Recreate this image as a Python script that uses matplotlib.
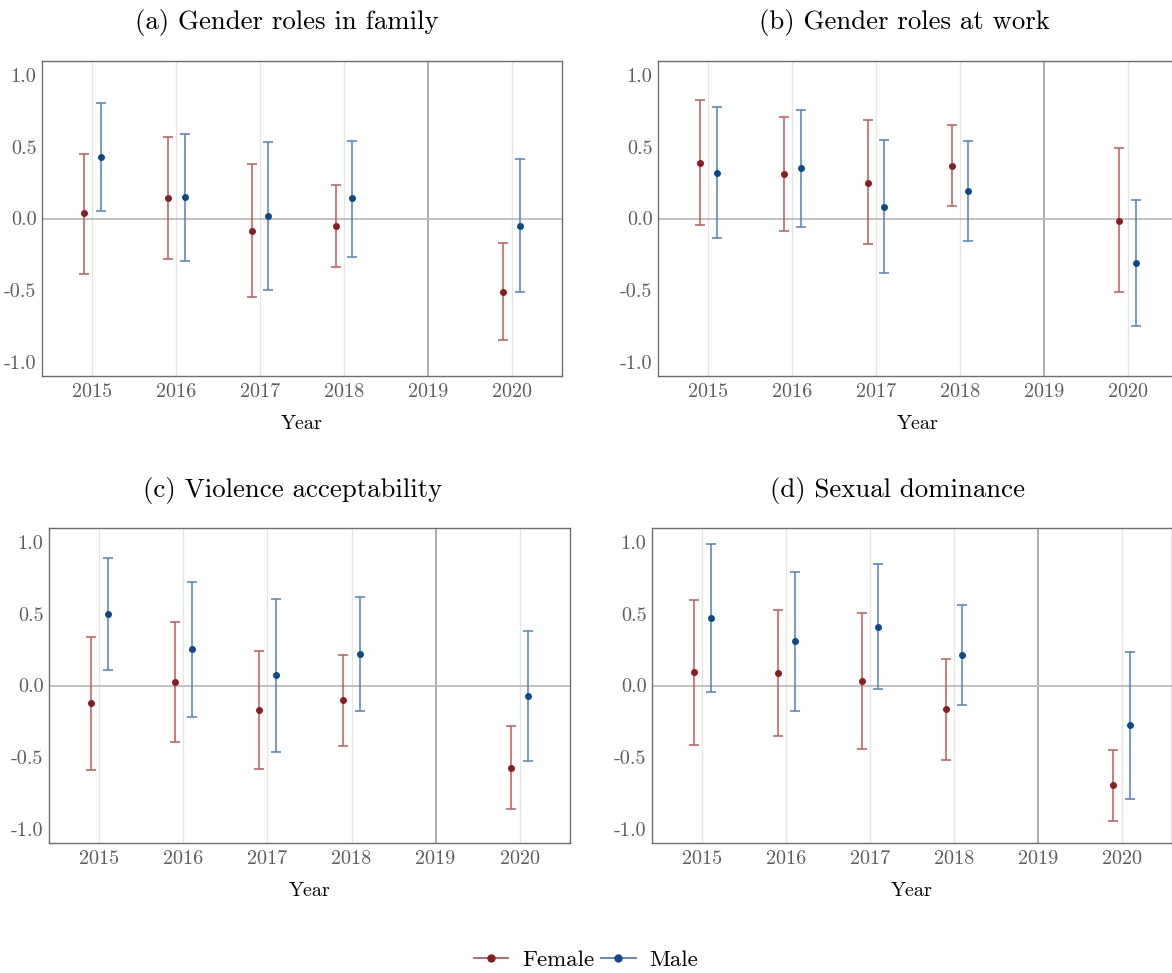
import numpy as np
import matplotlib
matplotlib.use("Agg")
import matplotlib.pyplot as plt
from matplotlib.lines import Line2D

plt.rcParams['font.family'] = ['cmr10', 'DejaVu Serif']
plt.rcParams['axes.unicode_minus'] = False

years = [2015, 2016, 2017, 2018, 2020]
titles = ['(a) Gender roles in family', '(b) Gender roles at work',
          '(c) Violence acceptability', '(d) Sexual dominance']

# point estimate, lower, upper for each panel
fem_est = [[0.035, 0.145, -0.086, -0.05, -0.51],
           [0.39, 0.31, 0.25, 0.37, -0.014],
           [-0.123, 0.023, -0.17, -0.102, -0.576],
           [0.093, 0.086, 0.03, -0.167, -0.697]]
fem_lo = [[-0.39, -0.28, -0.55, -0.34, -0.85],
          [-0.047, -0.086, -0.18, 0.085, -0.51],
          [-0.592, -0.395, -0.583, -0.423, -0.866],
          [-0.416, -0.353, -0.444, -0.518, -0.943]]
fem_hi = [[0.45, 0.57, 0.38, 0.235, -0.17],
          [0.83, 0.71, 0.69, 0.65, 0.49],
          [0.341, 0.441, 0.244, 0.214, -0.286],
          [0.599, 0.525, 0.504, 0.188, -0.451]]
male_est = [[0.43, 0.15, 0.016, 0.14, -0.049],
            [0.32, 0.35, 0.08, 0.19, -0.31],
            [0.502, 0.253, 0.07, 0.218, -0.074],
            [0.472, 0.309, 0.411, 0.211, -0.279]]
male_lo = [[0.05, -0.295, -0.50, -0.27, -0.515],
           [-0.135, -0.06, -0.38, -0.16, -0.75],
           [0.107, -0.221, -0.467, -0.179, -0.527],
           [-0.044, -0.177, -0.021, -0.139, -0.79]]
male_hi = [[0.81, 0.59, 0.535, 0.54, 0.415],
           [0.78, 0.755, 0.545, 0.54, 0.13],
           [0.892, 0.725, 0.604, 0.616, 0.381],
           [0.985, 0.794, 0.846, 0.562, 0.232]]

fem_dot, fem_line = '#8b1c1f', '#c0585a'
male_dot, male_line = '#0d4a8c', '#4f82bd'

W, H = 1172, 973
fig = plt.figure(figsize=(W / 100, H / 100), dpi=100)

# axes boxes in pixels: left, top, right, bottom
boxes = [(42, 61, 562, 376), (658, 61, 1178, 376),
         (49, 528, 570, 843), (652, 528, 1172, 843)]
title_pos = [(287, 22), (904, 22), (293, 490), (897, 490)]

for i, (l, t, r, b) in enumerate(boxes):
    ax = fig.add_axes([l / W, 1 - b / H, (r - l) / W, (b - t) / H])
    x = np.array(years, dtype=float)
    ax.axvline(2019, color='#a0a0a0', lw=1.2, zorder=1)
    ax.axhline(0, color='#bdbdbd', lw=1.3, zorder=1)
    for yr in [2015, 2016, 2017, 2018, 2020]:
        ax.axvline(yr, color='#e6e6e6', lw=1.0, zorder=0)

    fe = np.array(fem_est[i])
    me = np.array(male_est[i])
    ax.errorbar(x - 0.1, fe, yerr=[fe - np.array(fem_lo[i]), np.array(fem_hi[i]) - fe],
                fmt='none', ecolor=fem_line, elinewidth=1.1, capsize=3.6, capthick=1.1, zorder=2)
    ax.plot(x - 0.1, fe, 'o', color=fem_dot, ms=4, zorder=3)
    ax.errorbar(x + 0.1, me, yerr=[me - np.array(male_lo[i]), np.array(male_hi[i]) - me],
                fmt='none', ecolor=male_line, elinewidth=1.1, capsize=3.6, capthick=1.1, zorder=2)
    ax.plot(x + 0.1, me, 'o', color=male_dot, ms=4, zorder=3)

    ax.set_xlim(2014.4, 2020.6)
    ax.set_ylim(-1.1, 1.1)
    ax.set_xticks([2015, 2016, 2017, 2018, 2019, 2020])
    ax.set_xticklabels(['2015', '2016', '2017', '2018', '2019', '2020'])
    ax.set_yticks([-1.0, -0.5, 0.0, 0.5, 1.0])
    ax.set_yticklabels(['-1.0', '-0.5', '0.0', '0.5', '1.0'])
    ax.tick_params(length=0, labelsize=14.5, labelcolor='#5e5e5e')
    ax.tick_params(axis='x', pad=5)
    ax.tick_params(axis='y', pad=4)
    for s in ax.spines.values():
        s.set_color('#6e6e6e')
        s.set_linewidth(1.0)
    ax.set_xlabel('Year', fontsize=14.5, labelpad=10)

    tx, ty = title_pos[i]
    fig.text(tx / W, 1 - ty / H, titles[i], fontsize=19.3, ha='center', va='center')

handles = [Line2D([0], [0], color=fem_line, lw=1.3, marker='o', ms=5,
                  markerfacecolor=fem_dot, markeredgecolor=fem_dot),
           Line2D([0], [0], color=male_line, lw=1.3, marker='o', ms=5,
                  markerfacecolor=male_dot, markeredgecolor=male_dot)]
fig.legend(handles, ['Female', 'Male'], loc='center', bbox_to_anchor=(586 / W, 1 - 960 / H),
           ncol=2, frameon=False, fontsize=16.5, handlelength=1.5, handletextpad=0.6,
           columnspacing=0.3)

fig.savefig('out.png', dpi=100)
